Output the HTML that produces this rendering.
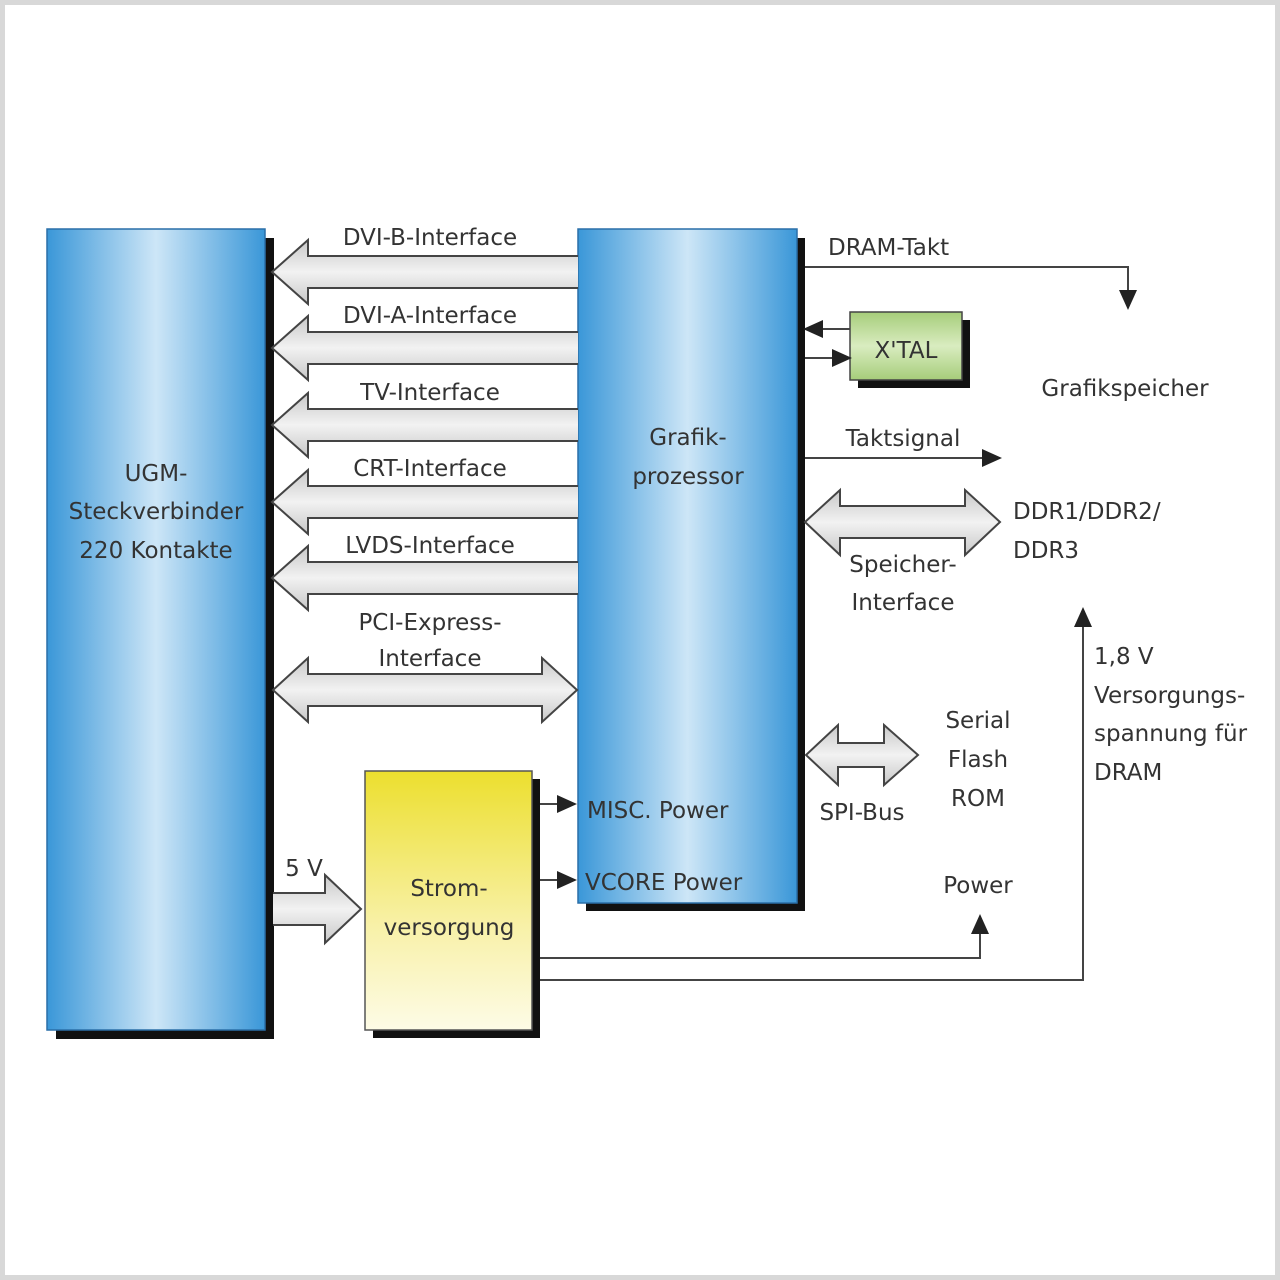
<!DOCTYPE html>
<html><head><meta charset="utf-8"><style>
html,body{margin:0;padding:0;background:#fff}
svg{display:block}
text{font-family:"DejaVu Sans","Liberation Sans",sans-serif;fill:#333;font-size:23px}
</style></head><body>
<svg width="1280" height="1280" viewBox="0 0 1280 1280" xmlns="http://www.w3.org/2000/svg">
<defs>
<linearGradient id="bl" x1="0" y1="0" x2="1" y2="0">
<stop offset="0" stop-color="#3a97d8"/><stop offset="0.5" stop-color="#cde6f7"/><stop offset="1" stop-color="#3a97d8"/>
</linearGradient>
<linearGradient id="yl" x1="0" y1="0" x2="0" y2="1">
<stop offset="0" stop-color="#ecdf2e"/><stop offset="0.6" stop-color="#f8f1a8"/><stop offset="1" stop-color="#fdfbe6"/>
</linearGradient>
<linearGradient id="gr" x1="0" y1="0" x2="0" y2="1">
<stop offset="0" stop-color="#a6cd7a"/><stop offset="0.5" stop-color="#d9ecc0"/><stop offset="1" stop-color="#a6cd7a"/>
</linearGradient>
<linearGradient id="ga" x1="0" y1="0" x2="0" y2="1">
<stop offset="0" stop-color="#c8c8c8"/><stop offset="0.5" stop-color="#f2f2f2"/><stop offset="1" stop-color="#c8c8c8"/>
</linearGradient>
<marker id="ah" markerWidth="10" markerHeight="10" refX="9" refY="5" orient="auto" markerUnits="userSpaceOnUse">
<path d="M0,0 L10,5 L0,10 z" fill="#222"/></marker>
<marker id="ab" markerWidth="20" markerHeight="20" refX="18" refY="10" orient="auto" markerUnits="userSpaceOnUse">
<path d="M0,1 L20,10 L0,19 z" fill="#222"/></marker>
</defs>
<rect x="2.5" y="2.5" width="1275" height="1275" fill="#fff" stroke="#d8d8d8" stroke-width="5"/>

<!-- UGM -->
<rect x="56" y="238" width="218" height="801" fill="#111"/>
<rect x="47" y="229" width="218" height="801" fill="url(#bl)" stroke="#2a6fa8" stroke-width="1.5"/>
<text x="156" y="481" text-anchor="middle">UGM-</text>
<text x="156" y="519" text-anchor="middle">Steckverbinder</text>
<text x="156" y="558" text-anchor="middle">220 Kontakte</text>

<!-- Grafik -->
<rect x="586" y="238" width="219" height="673" fill="#111"/>
<rect x="578" y="229" width="219" height="674" fill="url(#bl)" stroke="#2a6fa8" stroke-width="1.5"/>
<text x="688" y="445" text-anchor="middle">Grafik-</text>
<text x="688" y="484" text-anchor="middle">prozessor</text>
<text x="587" y="818">MISC. Power</text>
<text x="585" y="890">VCORE Power</text>

<!-- Strom -->
<rect x="373" y="779" width="167" height="259" fill="#111"/>
<rect x="365" y="771" width="167" height="259" fill="url(#yl)" stroke="#555" stroke-width="1.5"/>
<text x="449" y="896" text-anchor="middle">Strom-</text>
<text x="449" y="935" text-anchor="middle">versorgung</text>

<!-- XTAL -->
<rect x="858" y="320" width="112" height="68" fill="#111"/>
<rect x="850" y="312" width="112" height="68" fill="url(#gr)" stroke="#444" stroke-width="1.5"/>
<text x="906" y="358" text-anchor="middle">X'TAL</text>

<!-- left arrows -->
<g fill="url(#ga)" stroke="#444" stroke-width="2">
<path d="M578,256 L308,256 L308,240 L272,272 L308,304 L308,288 L578,288"/>
<path d="M578,332 L308,332 L308,316 L272,348 L308,380 L308,364 L578,364"/>
<path d="M578,409 L308,409 L308,393 L272,425 L308,457 L308,441 L578,441"/>
<path d="M578,486 L308,486 L308,470 L272,502 L308,534 L308,518 L578,518"/>
<path d="M578,562 L308,562 L308,546 L272,578 L308,610 L308,594 L578,594"/>
<path d="M308,674 L308,658 L273,690 L308,722 L308,706 L542,706 L542,722 L577,690 L542,658 L542,674 Z"/>
<path d="M273,893 L325,893 L325,875 L361,909 L325,943 L325,925 L273,925"/>
<path d="M840,506 L840,490 L805,522 L840,555 L840,538 L965,538 L965,555 L1000,522 L965,490 L965,506 Z"/>
<path d="M838,743 L838,725 L806,755 L838,785 L838,767 L884,767 L884,785 L918,755 L884,725 L884,743 Z"/>
</g>

<text x="430" y="245" text-anchor="middle">DVI-B-Interface</text>
<text x="430" y="323" text-anchor="middle">DVI-A-Interface</text>
<text x="430" y="400" text-anchor="middle">TV-Interface</text>
<text x="430" y="476" text-anchor="middle">CRT-Interface</text>
<text x="430" y="553" text-anchor="middle">LVDS-Interface</text>
<text x="430" y="630" text-anchor="middle">PCI-Express-</text>
<text x="430" y="666" text-anchor="middle">Interface</text>
<text x="304" y="876" text-anchor="middle">5 V</text>

<!-- lines -->
<g fill="none" stroke="#444" stroke-width="2">
<path d="M805,267 L1128,267 L1128,308" marker-end="url(#ab)"/>
<path d="M850,329 L805,329" marker-end="url(#ab)"/>
<path d="M805,358 L850,358" marker-end="url(#ab)"/>
<path d="M805,458 L1000,458" marker-end="url(#ab)"/>
<path d="M540,804 L575,804" marker-end="url(#ab)"/>
<path d="M540,880 L575,880" marker-end="url(#ab)"/>
<path d="M540,958 L980,958 L980,916" marker-end="url(#ab)"/>
<path d="M540,980 L1083,980 L1083,609" marker-end="url(#ab)"/>
</g>

<text x="828" y="255">DRAM-Takt</text>
<text x="1125" y="396" text-anchor="middle">Grafikspeicher</text>
<text x="903" y="446" text-anchor="middle">Taktsignal</text>
<text x="1013" y="519">DDR1/DDR2/</text>
<text x="1013" y="558">DDR3</text>
<text x="903" y="572" text-anchor="middle">Speicher-</text>
<text x="903" y="610" text-anchor="middle">Interface</text>
<text x="1094" y="664">1,8 V</text>
<text x="1094" y="703">Versorgungs-</text>
<text x="1094" y="741">spannung für</text>
<text x="1094" y="780">DRAM</text>
<text x="978" y="728" text-anchor="middle">Serial</text>
<text x="978" y="767" text-anchor="middle">Flash</text>
<text x="978" y="806" text-anchor="middle">ROM</text>
<text x="862" y="820" text-anchor="middle">SPI-Bus</text>
<text x="978" y="893" text-anchor="middle">Power</text>
</svg>
</body></html>
